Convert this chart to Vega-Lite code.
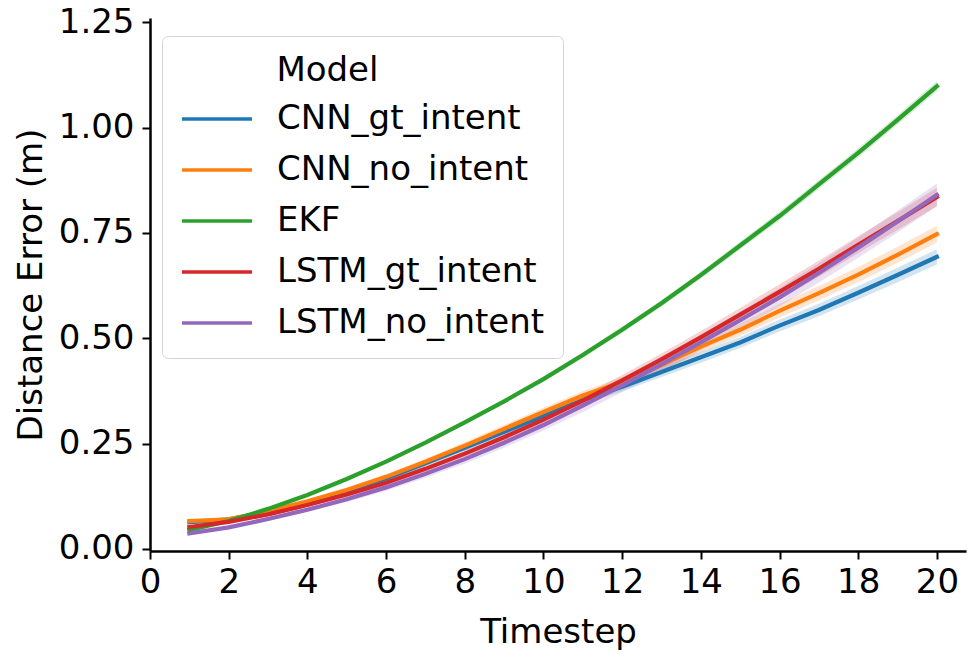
{
  "$schema": "https://vega.github.io/schema/vega-lite/v6.json",
  "width": 816,
  "height": 533,
  "autosize": {"type": "none"},
  "padding": {"left": 150, "top": 18, "right": 1, "bottom": 103},
  "background": "white",
  "config": {
    "view": {"stroke": null},
    "font": "DejaVu Sans",
    "axis": {
      "grid": false,
      "domainColor": "black",
      "domainWidth": 2.5,
      "tickColor": "black",
      "tickWidth": 2,
      "tickSize": 8,
      "labelFontSize": 34,
      "titleFontSize": 34,
      "labelColor": "black",
      "titleColor": "black",
      "titleFontWeight": "normal",
      "labelFlush": false
    }
  },
  "data": {"values": [
    {"t":1,"m":"CNN_gt_intent","v":0.063,"lo":0.062,"hi":0.064},
    {"t":2,"m":"CNN_gt_intent","v":0.070,"lo":0.068,"hi":0.072},
    {"t":3,"m":"CNN_gt_intent","v":0.088,"lo":0.085,"hi":0.091},
    {"t":4,"m":"CNN_gt_intent","v":0.110,"lo":0.106,"hi":0.114},
    {"t":5,"m":"CNN_gt_intent","v":0.136,"lo":0.132,"hi":0.140},
    {"t":6,"m":"CNN_gt_intent","v":0.167,"lo":0.162,"hi":0.172},
    {"t":7,"m":"CNN_gt_intent","v":0.203,"lo":0.197,"hi":0.209},
    {"t":8,"m":"CNN_gt_intent","v":0.240,"lo":0.233,"hi":0.247},
    {"t":9,"m":"CNN_gt_intent","v":0.278,"lo":0.270,"hi":0.286},
    {"t":10,"m":"CNN_gt_intent","v":0.316,"lo":0.307,"hi":0.325},
    {"t":11,"m":"CNN_gt_intent","v":0.353,"lo":0.343,"hi":0.363},
    {"t":12,"m":"CNN_gt_intent","v":0.385,"lo":0.374,"hi":0.396},
    {"t":13,"m":"CNN_gt_intent","v":0.420,"lo":0.408,"hi":0.432},
    {"t":14,"m":"CNN_gt_intent","v":0.455,"lo":0.442,"hi":0.468},
    {"t":15,"m":"CNN_gt_intent","v":0.490,"lo":0.477,"hi":0.503},
    {"t":16,"m":"CNN_gt_intent","v":0.530,"lo":0.516,"hi":0.544},
    {"t":17,"m":"CNN_gt_intent","v":0.567,"lo":0.552,"hi":0.582},
    {"t":18,"m":"CNN_gt_intent","v":0.608,"lo":0.592,"hi":0.624},
    {"t":19,"m":"CNN_gt_intent","v":0.650,"lo":0.633,"hi":0.667},
    {"t":20,"m":"CNN_gt_intent","v":0.693,"lo":0.675,"hi":0.711},
    {"t":1,"m":"CNN_no_intent","v":0.066,"lo":0.065,"hi":0.067},
    {"t":2,"m":"CNN_no_intent","v":0.070,"lo":0.068,"hi":0.072},
    {"t":3,"m":"CNN_no_intent","v":0.090,"lo":0.087,"hi":0.093},
    {"t":4,"m":"CNN_no_intent","v":0.113,"lo":0.109,"hi":0.117},
    {"t":5,"m":"CNN_no_intent","v":0.140,"lo":0.135,"hi":0.145},
    {"t":6,"m":"CNN_no_intent","v":0.171,"lo":0.165,"hi":0.177},
    {"t":7,"m":"CNN_no_intent","v":0.207,"lo":0.200,"hi":0.214},
    {"t":8,"m":"CNN_no_intent","v":0.245,"lo":0.237,"hi":0.253},
    {"t":9,"m":"CNN_no_intent","v":0.285,"lo":0.276,"hi":0.294},
    {"t":10,"m":"CNN_no_intent","v":0.325,"lo":0.315,"hi":0.335},
    {"t":11,"m":"CNN_no_intent","v":0.364,"lo":0.353,"hi":0.375},
    {"t":12,"m":"CNN_no_intent","v":0.396,"lo":0.384,"hi":0.408},
    {"t":13,"m":"CNN_no_intent","v":0.436,"lo":0.423,"hi":0.449},
    {"t":14,"m":"CNN_no_intent","v":0.480,"lo":0.466,"hi":0.494},
    {"t":15,"m":"CNN_no_intent","v":0.520,"lo":0.505,"hi":0.535},
    {"t":16,"m":"CNN_no_intent","v":0.565,"lo":0.549,"hi":0.581},
    {"t":17,"m":"CNN_no_intent","v":0.607,"lo":0.590,"hi":0.624},
    {"t":18,"m":"CNN_no_intent","v":0.651,"lo":0.633,"hi":0.669},
    {"t":19,"m":"CNN_no_intent","v":0.698,"lo":0.679,"hi":0.717},
    {"t":20,"m":"CNN_no_intent","v":0.747,"lo":0.727,"hi":0.767},
    {"t":1,"m":"EKF","v":0.045,"lo":0.044,"hi":0.046},
    {"t":2,"m":"EKF","v":0.066,"lo":0.065,"hi":0.067},
    {"t":3,"m":"EKF","v":0.095,"lo":0.093,"hi":0.097},
    {"t":4,"m":"EKF","v":0.128,"lo":0.126,"hi":0.130},
    {"t":5,"m":"EKF","v":0.166,"lo":0.163,"hi":0.169},
    {"t":6,"m":"EKF","v":0.207,"lo":0.203,"hi":0.211},
    {"t":7,"m":"EKF","v":0.252,"lo":0.248,"hi":0.256},
    {"t":8,"m":"EKF","v":0.300,"lo":0.295,"hi":0.305},
    {"t":9,"m":"EKF","v":0.350,"lo":0.345,"hi":0.355},
    {"t":10,"m":"EKF","v":0.403,"lo":0.397,"hi":0.409},
    {"t":11,"m":"EKF","v":0.460,"lo":0.453,"hi":0.467},
    {"t":12,"m":"EKF","v":0.520,"lo":0.513,"hi":0.527},
    {"t":13,"m":"EKF","v":0.583,"lo":0.575,"hi":0.591},
    {"t":14,"m":"EKF","v":0.650,"lo":0.642,"hi":0.658},
    {"t":15,"m":"EKF","v":0.720,"lo":0.711,"hi":0.729},
    {"t":16,"m":"EKF","v":0.790,"lo":0.780,"hi":0.800},
    {"t":17,"m":"EKF","v":0.865,"lo":0.855,"hi":0.875},
    {"t":18,"m":"EKF","v":0.940,"lo":0.929,"hi":0.951},
    {"t":19,"m":"EKF","v":1.018,"lo":1.007,"hi":1.029},
    {"t":20,"m":"EKF","v":1.098,"lo":1.086,"hi":1.110},
    {"t":1,"m":"LSTM_gt_intent","v":0.052,"lo":0.051,"hi":0.053},
    {"t":2,"m":"LSTM_gt_intent","v":0.064,"lo":0.062,"hi":0.066},
    {"t":3,"m":"LSTM_gt_intent","v":0.082,"lo":0.079,"hi":0.085},
    {"t":4,"m":"LSTM_gt_intent","v":0.104,"lo":0.100,"hi":0.108},
    {"t":5,"m":"LSTM_gt_intent","v":0.129,"lo":0.124,"hi":0.134},
    {"t":6,"m":"LSTM_gt_intent","v":0.157,"lo":0.150,"hi":0.164},
    {"t":7,"m":"LSTM_gt_intent","v":0.190,"lo":0.182,"hi":0.198},
    {"t":8,"m":"LSTM_gt_intent","v":0.226,"lo":0.217,"hi":0.235},
    {"t":9,"m":"LSTM_gt_intent","v":0.265,"lo":0.255,"hi":0.275},
    {"t":10,"m":"LSTM_gt_intent","v":0.307,"lo":0.296,"hi":0.318},
    {"t":11,"m":"LSTM_gt_intent","v":0.352,"lo":0.340,"hi":0.364},
    {"t":12,"m":"LSTM_gt_intent","v":0.400,"lo":0.387,"hi":0.413},
    {"t":13,"m":"LSTM_gt_intent","v":0.450,"lo":0.436,"hi":0.464},
    {"t":14,"m":"LSTM_gt_intent","v":0.502,"lo":0.487,"hi":0.517},
    {"t":15,"m":"LSTM_gt_intent","v":0.556,"lo":0.540,"hi":0.572},
    {"t":16,"m":"LSTM_gt_intent","v":0.610,"lo":0.592,"hi":0.628},
    {"t":17,"m":"LSTM_gt_intent","v":0.665,"lo":0.646,"hi":0.684},
    {"t":18,"m":"LSTM_gt_intent","v":0.722,"lo":0.702,"hi":0.742},
    {"t":19,"m":"LSTM_gt_intent","v":0.778,"lo":0.757,"hi":0.799},
    {"t":20,"m":"LSTM_gt_intent","v":0.835,"lo":0.813,"hi":0.857},
    {"t":1,"m":"LSTM_no_intent","v":0.037,"lo":0.036,"hi":0.038},
    {"t":2,"m":"LSTM_no_intent","v":0.051,"lo":0.048,"hi":0.054},
    {"t":3,"m":"LSTM_no_intent","v":0.071,"lo":0.067,"hi":0.075},
    {"t":4,"m":"LSTM_no_intent","v":0.093,"lo":0.088,"hi":0.098},
    {"t":5,"m":"LSTM_no_intent","v":0.118,"lo":0.111,"hi":0.125},
    {"t":6,"m":"LSTM_no_intent","v":0.146,"lo":0.138,"hi":0.154},
    {"t":7,"m":"LSTM_no_intent","v":0.178,"lo":0.169,"hi":0.187},
    {"t":8,"m":"LSTM_no_intent","v":0.213,"lo":0.202,"hi":0.224},
    {"t":9,"m":"LSTM_no_intent","v":0.252,"lo":0.240,"hi":0.264},
    {"t":10,"m":"LSTM_no_intent","v":0.294,"lo":0.281,"hi":0.307},
    {"t":11,"m":"LSTM_no_intent","v":0.340,"lo":0.325,"hi":0.355},
    {"t":12,"m":"LSTM_no_intent","v":0.388,"lo":0.372,"hi":0.404},
    {"t":13,"m":"LSTM_no_intent","v":0.438,"lo":0.420,"hi":0.456},
    {"t":14,"m":"LSTM_no_intent","v":0.490,"lo":0.471,"hi":0.509},
    {"t":15,"m":"LSTM_no_intent","v":0.543,"lo":0.523,"hi":0.563},
    {"t":16,"m":"LSTM_no_intent","v":0.597,"lo":0.575,"hi":0.619},
    {"t":17,"m":"LSTM_no_intent","v":0.655,"lo":0.632,"hi":0.678},
    {"t":18,"m":"LSTM_no_intent","v":0.715,"lo":0.691,"hi":0.739},
    {"t":19,"m":"LSTM_no_intent","v":0.777,"lo":0.751,"hi":0.803},
    {"t":20,"m":"LSTM_no_intent","v":0.840,"lo":0.813,"hi":0.867}
  ]},
  "encoding": {
    "x": {
      "field": "t", "type": "quantitative",
      "scale": {"domain": [0, 20.74], "nice": false, "zero": false},
      "axis": {"title": "Timestep", "values": [0,2,4,6,8,10,12,14,16,18,20], "labelPadding": 6, "titlePadding": 16, "format": "d"}
    }
  },
  "layer": [
    {
      "transform": [{"filter": {"field": "m", "equal": "CNN_gt_intent"}}],
      "mark": {"type": "area", "opacity": 0.2, "color": "#1f77b4"},
      "encoding": {
        "y": {"field": "lo", "type": "quantitative", "scale": {"domain": [-0.005, 1.26], "nice": false, "zero": false}},
        "y2": {"field": "hi"}
      }
    },
    {
      "transform": [{"filter": {"field": "m", "equal": "CNN_no_intent"}}],
      "mark": {"type": "area", "opacity": 0.2, "color": "#ff7f0e"},
      "encoding": {"y": {"field": "lo", "type": "quantitative"}, "y2": {"field": "hi"}}
    },
    {
      "transform": [{"filter": {"field": "m", "equal": "EKF"}}],
      "mark": {"type": "area", "opacity": 0.2, "color": "#2ca02c"},
      "encoding": {"y": {"field": "lo", "type": "quantitative"}, "y2": {"field": "hi"}}
    },
    {
      "transform": [{"filter": {"field": "m", "equal": "LSTM_gt_intent"}}],
      "mark": {"type": "area", "opacity": 0.2, "color": "#d62728"},
      "encoding": {"y": {"field": "lo", "type": "quantitative"}, "y2": {"field": "hi"}}
    },
    {
      "transform": [{"filter": {"field": "m", "equal": "LSTM_no_intent"}}],
      "mark": {"type": "area", "opacity": 0.2, "color": "#9467bd"},
      "encoding": {"y": {"field": "lo", "type": "quantitative"}, "y2": {"field": "hi"}}
    },
    {
      "mark": {"type": "line", "strokeWidth": 4.2, "strokeCap": "square"},
      "encoding": {
        "y": {
          "field": "v", "type": "quantitative",
          "axis": {"title": "Distance Error (m)", "values": [0,0.25,0.5,0.75,1.0,1.25], "format": ".2f", "labelPadding": 8, "titlePadding": 10}
        },
        "color": {
          "field": "m", "type": "nominal",
          "scale": {"domain": ["CNN_gt_intent","CNN_no_intent","EKF","LSTM_gt_intent","LSTM_no_intent"], "range": ["#1f77b4","#ff7f0e","#2ca02c","#d62728","#9467bd"]},
          "legend": {
            "title": "\u200b\u2003\u2003\u00a0\u00a0\u2009Model",
            "orient": "none",
            "legendX": 12,
            "legendY": 18,
            "padding": 18,
            "fillColor": "white",
            "strokeColor": "#d4d4d4",
            "cornerRadius": 6,
            "titleFontSize": 34,
            "titleFontWeight": "normal",
            "titleColor": "black",
            "titlePadding": 4,
            "titleLimit": 500,
            "labelFontSize": 34,
            "labelColor": "black",
            "labelOffset": 43,
            "labelLimit": 400,
            "symbolType": "M-1,0L1.8,0",
            "symbolSize": 2500,
            "symbolStrokeWidth": 3.5,
            "rowPadding": 7
          }
        }
      }
    }
  ]
}
